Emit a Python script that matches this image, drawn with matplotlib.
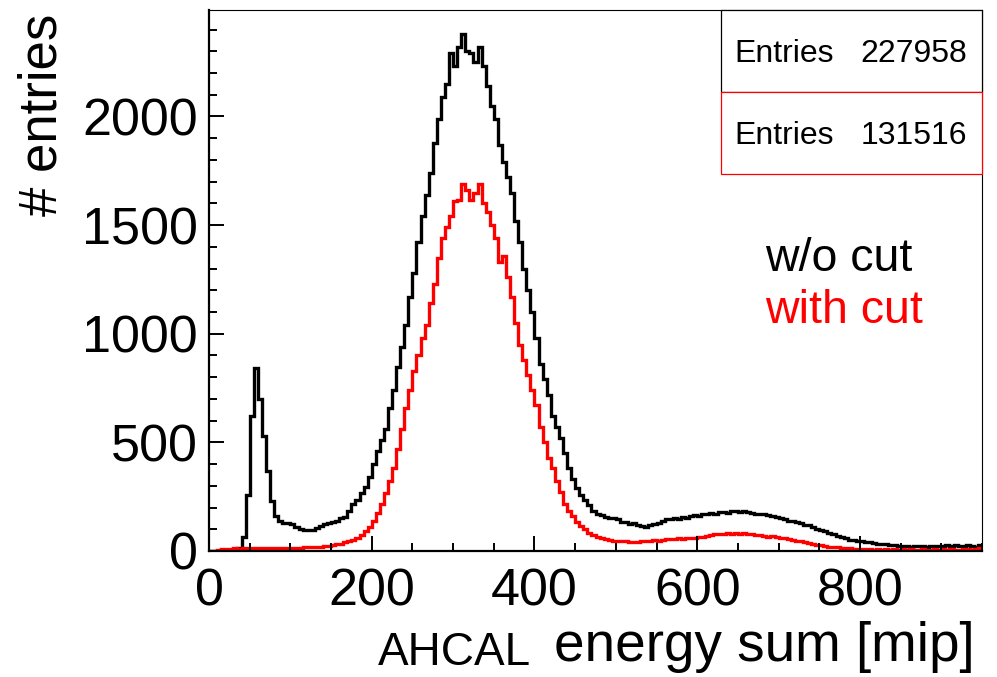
#!/usr/bin/env python
"""
AHCAL energy sum, with and without cut (ROOT-style histogram)
"""
import numpy as np
import matplotlib
matplotlib.use('Agg')
import matplotlib.pyplot as plt
from matplotlib.patches import Rectangle
from matplotlib.ticker import MultipleLocator

plt.rcParams['font.family'] = ['Liberation Sans', 'DejaVu Sans']

# histogram binning [mip]
bin_width = 5
x_min, x_max = 0, 950
y_max = 2490

# counts per 5 mip bin (0 ... 945)
counts_no_cut = [
    0, 0, 2, 3, 4, 5, 8, 15, 66, 260,
    620, 840, 700, 530, 370, 230, 160, 138, 130, 128,
    122, 112, 102, 97, 98, 96, 105, 115, 125, 128,
    132, 138, 150, 158, 185, 215, 235, 265, 296, 340,
    400, 460, 510, 560, 660, 740, 845, 940, 1040, 1170,
    1280, 1420, 1540, 1640, 1740, 1880, 1990, 2090, 2150, 2290,
    2230, 2320, 2380, 2300, 2290, 2250, 2320, 2230, 2140, 2050,
    1990, 1870, 1790, 1720, 1650, 1520, 1420, 1300, 1200, 1100,
    980, 860, 790, 720, 620, 570, 520, 450, 380, 330,
    290, 260, 235, 210, 185, 172, 165, 158, 153, 150,
    145, 135, 132, 125, 128, 120, 115, 112, 118, 125,
    130, 140, 148, 145, 150, 148, 155, 150, 160, 165,
    162, 170, 168, 175, 172, 178, 180, 176, 182, 185,
    180, 184, 178, 176, 172, 170, 168, 165, 160, 158,
    150, 148, 140, 138, 132, 128, 120, 118, 110, 100,
    97, 90, 82, 76, 70, 65, 58, 52, 50, 47,
    44, 42, 40, 36, 34, 32, 30, 28, 26, 25,
    22, 24, 20, 22, 21, 24, 20, 22, 25, 21,
    23, 27, 24, 28, 25, 22, 26, 24, 20, 28,
]

counts_with_cut = [
    0, 2, 5, 8, 10, 10, 12, 11, 13, 12,
    14, 13, 12, 14, 13, 15, 14, 13, 15, 14,
    16, 15, 16, 17, 18, 17, 19, 20, 22, 24,
    26, 30, 34, 40, 46, 52, 62, 75, 92, 112,
    140, 175, 215, 265, 320, 380, 470, 560, 660, 740,
    830, 900, 980, 1040, 1140, 1230, 1350, 1440, 1490, 1540,
    1610, 1615, 1690, 1660, 1615, 1650, 1690, 1600, 1560, 1500,
    1440, 1330, 1360, 1260, 1170, 1050, 950, 880, 810, 740,
    670, 570, 500, 430, 380, 320, 270, 215, 185, 160,
    135, 115, 100, 85, 72, 64, 60, 55, 50, 48,
    46, 46, 44, 43, 43, 42, 45, 44, 48, 50,
    47, 52, 55, 57, 55, 58, 56, 60, 58, 62,
    64, 66, 70, 72, 78, 80, 76, 82, 80, 84,
    78, 82, 80, 78, 74, 72, 70, 66, 68, 64,
    60, 58, 56, 52, 48, 44, 40, 36, 32, 28,
    26, 24, 20, 20, 17, 15, 12, 12, 10, 10,
    8, 7, 8, 6, 7, 6, 8, 5, 7, 6,
    8, 6, 7, 5, 6, 8, 6, 5, 7, 6,
    8, 6, 7, 5, 6, 8, 7, 6, 9, 12,
]

entries_no_cut = 227958
entries_with_cut = 131516

labels = ['w/o cut', 'with cut']
colors = ['black', '#ff0000']

W, H = 997, 677


def fx(px):
    return px / W


def fy(py):
    return 1 - py / H


fig = plt.figure(figsize=(W / 100, H / 100), dpi=100)
ax = fig.add_axes([fx(209), fy(551), (982 - 209) / W, (551 - 10) / H])

edges = np.arange(x_min, x_max + bin_width, bin_width)
ax.stairs(counts_no_cut, edges, color=colors[0], lw=2.4)
ax.stairs(counts_with_cut, edges, color=colors[1], lw=2.4)

ax.set_xlim(x_min, x_max)
ax.set_ylim(0, y_max)

# ROOT-like ticks: inside, left and bottom only
ax.xaxis.set_major_locator(MultipleLocator(200))
ax.xaxis.set_minor_locator(MultipleLocator(50))
ax.yaxis.set_major_locator(MultipleLocator(500))
ax.yaxis.set_minor_locator(MultipleLocator(100))
ax.tick_params(which='both', direction='in', top=False, right=False,
               width=1.4, labelsize=37.5)
ax.tick_params(which='major', length=10.5)
ax.tick_params(which='minor', length=6)
ax.tick_params(axis='x', pad=12)
ax.tick_params(axis='y', pad=8)

for side in ['left', 'bottom']:
    ax.spines[side].set_linewidth(1.6)
for side in ['top', 'right']:
    ax.spines[side].set_linewidth(0.8)

# axis titles
fig.text(fx(43), fy(14), '# entries', rotation=90, fontsize=38,
         ha='center', va='top')
fig.text(fx(378), fy(665), 'AHCAL', fontsize=33, ha='left', va='baseline')
fig.text(fx(975), fy(661), 'energy sum [mip]', fontsize=39.5,
         ha='right', va='baseline')

# stats boxes
for i, (n, col) in enumerate([(entries_no_cut, 'black'), (entries_with_cut, '#ff0000')]):
    top = 10 + i * 82
    fig.add_artist(Rectangle((fx(721), fy(top + 82)), (982 - 721) / W, 82 / H,
                             transform=fig.transFigure, facecolor='white',
                             edgecolor=col, lw=0.9))
    fig.text(fx(734), fy(top + 52), 'Entries', fontsize=23, va='baseline')
    fig.text(fx(967), fy(top + 52), str(n), fontsize=23, ha='right', va='baseline')

# legend text
fig.text(fx(765), fy(271), labels[0], fontsize=33.5, color=colors[0], va='baseline')
fig.text(fx(765), fy(323), labels[1], fontsize=33.5, color=colors[1], va='baseline')

fig.savefig('out.png', dpi=100)
plt.close(fig)
